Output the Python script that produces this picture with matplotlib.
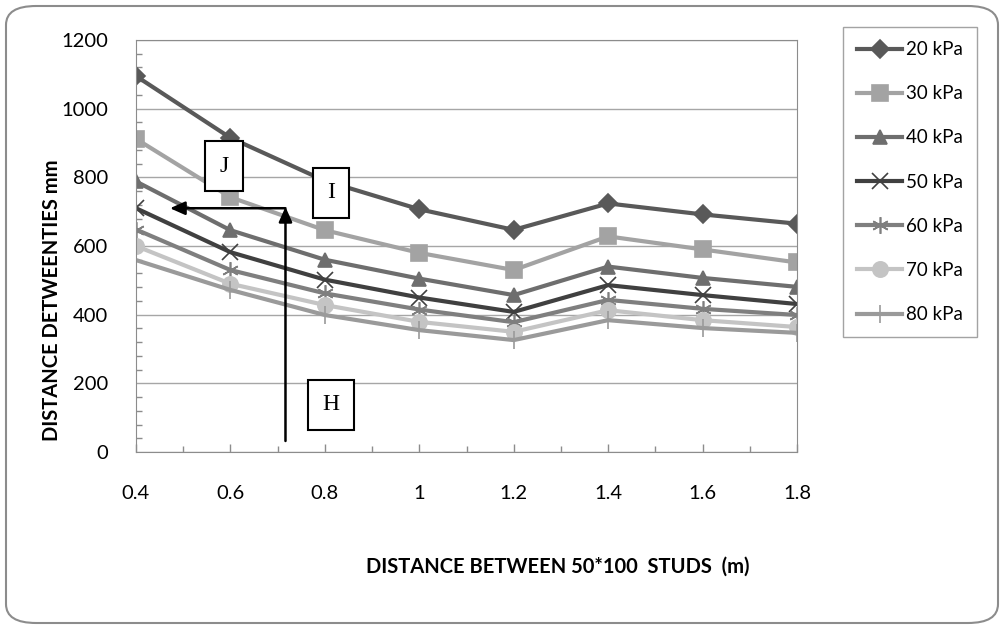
import numpy as np
import matplotlib.pyplot as plt
from matplotlib.patches import FancyBboxPatch

plt.rcParams['font.family'] = ['Lato', 'DejaVu Sans']

spacing = ['0.4', '0.6', '0.8', '1', '1.2', '1.4', '1.6', '1.8']
p20 = [1095, 915, 790, 707, 647, 724, 692, 665]
p30 = [912, 742, 646, 580, 530, 628, 590, 552]
p40 = [788, 646, 560, 505, 457, 540, 507, 481]
p50 = [710, 582, 502, 450, 408, 486, 457, 431]
p60 = [648, 530, 462, 415, 378, 443, 417, 399]
p70 = [600, 490, 428, 379, 350, 413, 384, 364]
p80 = [559, 472, 399, 355, 326, 384, 361, 347]
labels = ['20 kPa', '30 kPa', '40 kPa', '50 kPa', '60 kPa', '70 kPa', '80 kPa']

series = [p20, p30, p40, p50, p60, p70, p80]
colors = ['#595959', '#a3a3a3', '#6e6e6e', '#404040', '#7f7f7f', '#c4c4c4', '#9a9a9a']
markers = ['D', 's', '^', 'x', (6, 2, 0), 'o', '|']
msizes = [9, 11, 10, 12, 12, 11, 13]

W, H = 1006, 629
fig = plt.figure(figsize=(W/100, H/100), dpi=100)
ax = fig.add_axes([136/W, 1-452/H, (797-136)/W, (452-40)/H])

x = np.arange(len(spacing))
for vals, c, m, ms, lab in zip(series, colors, markers, msizes, labels):
    ax.plot(x, vals, color=c, lw=3, marker=m, ms=ms, mec=c, mfc=c, mew=1.2, label=lab)

ax.set_xlim(0, 7)
ax.set_ylim(0, 1200)
ax.set_xticks(x)
ax.set_xticklabels(spacing)
ax.set_xticks(np.arange(0.5, 7, 1), minor=True)
ax.set_yticks(np.arange(0, 1201, 200))
ax.set_yticks(np.arange(0, 1201, 40), minor=True)
ax.tick_params(axis='both', which='both', direction='in', color='#8c8c8c', labelsize=14.5, width=1)
ax.tick_params(axis='both', which='major', length=0)
ax.tick_params(axis='both', which='minor', length=4)
ax.tick_params(axis='x', which='major', length=6, pad=24)
ax.tick_params(axis='y', pad=20)
ax.yaxis.grid(True, color='#a6a6a6', lw=1)
ax.set_axisbelow(True)
for s in ax.spines.values():
    s.set_color('#8c8c8c')

fig.text(52/W, 1-300/H, 'DISTANCE DETWEENTIES mm', fontsize=14.5, fontweight='bold',
         rotation=90, ha='center', va='center')
fig.text(558/W, 1-567/H, 'DISTANCE BETWEEN 50*100  STUDS  (m)', fontsize=14.5,
         fontweight='bold', ha='center', va='center')

# arrows H -> I -> J
ax.annotate('', xy=(1.583, 722), xytext=(1.583, 24),
            arrowprops=dict(arrowstyle='-|>,head_length=0.9,head_width=0.4', color='black', lw=1.8))
ax.annotate('', xy=(0.36, 710), xytext=(1.583, 710),
            arrowprops=dict(arrowstyle='-|>,head_length=0.9,head_width=0.4', color='black', lw=1.8,
                            shrinkA=0, shrinkB=0))

for txt, px, py in [('J', 224, 166), ('I', 331, 193), ('H', 331, 405)]:
    fig.text(px/W, 1-py/H, txt, family=['Liberation Serif', 'DejaVu Serif'], fontsize=17,
             ha='center', va='center',
             bbox=dict(boxstyle='square,pad=0.6', fc='white', ec='black', lw=1.5))

leg = fig.legend(loc='upper left', bbox_to_anchor=(843/W, 1-27/H), fontsize=13.5,
                 frameon=True, fancybox=False, edgecolor='#8c8c8c', handlelength=2.4,
                 labelspacing=1.45, borderpad=0.75, handletextpad=0.2, borderaxespad=0)
leg.get_frame().set_linewidth(1)

border = FancyBboxPatch((6/W, 6/H), 992/W, 617/H, transform=fig.transFigure,
                        boxstyle='round,pad=0,rounding_size=0.03', fc='none', ec='#8c8c8c', lw=1.5)
fig.patches.append(border)

fig.savefig('out.png', dpi=100)
